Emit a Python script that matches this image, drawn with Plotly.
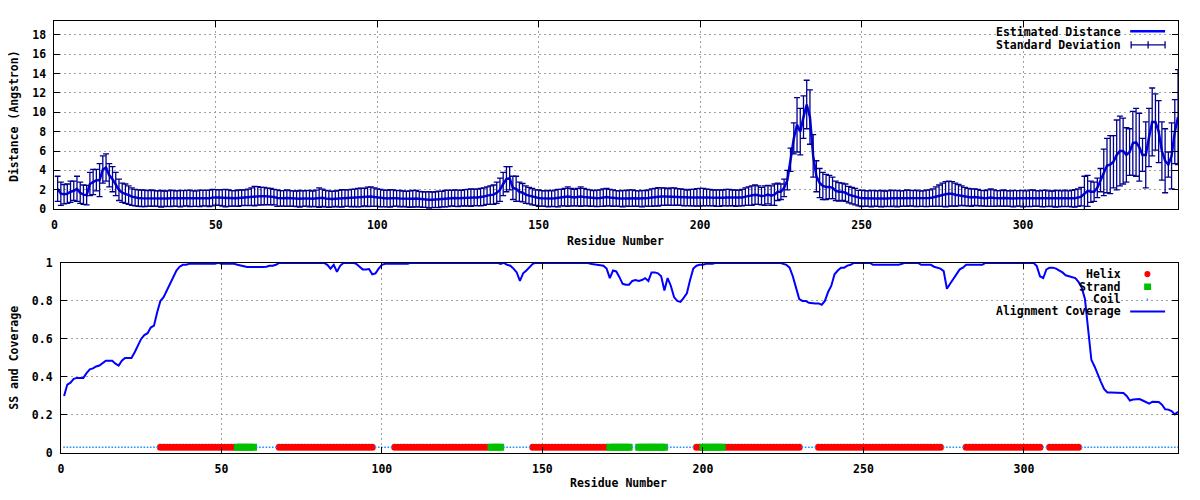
import plotly.graph_objects as go

# ---------------- data ----------------
residues = list(range(1, 349))

distance = [
    2.1, 1.6, 1.55, 1.6, 1.8, 1.9, 2.1, 1.7, 1.5, 1.45,
    2.6, 2.8, 3.0, 3.0, 4.1, 4.3, 3.5, 3.1, 2.6, 2.0,
    1.7, 1.6, 1.45, 1.3, 1.2, 1.15, 1.13, 1.12, 1.12, 1.15,
    1.12, 1.1, 1.08, 1.08, 1.1, 1.12, 1.12, 1.1, 1.1, 1.12,
    1.15, 1.12, 1.1, 1.1, 1.12, 1.15, 1.15, 1.12, 1.2, 1.22,
    1.2, 1.18, 1.15, 1.15, 1.12, 1.12, 1.15, 1.18, 1.2, 1.22,
    1.3, 1.35, 1.38, 1.35, 1.35, 1.32, 1.3, 1.25, 1.15, 1.12,
    1.12, 1.15, 1.12, 1.1, 1.08, 1.08, 1.1, 1.12, 1.1, 1.08,
    1.12, 1.2, 1.18, 1.1, 1.05, 1.05, 1.08, 1.1, 1.12, 1.15,
    1.15, 1.15, 1.18, 1.2, 1.22, 1.25, 1.28, 1.3, 1.25, 1.2,
    1.15, 1.12, 1.1, 1.12, 1.15, 1.12, 1.1, 1.08, 1.05, 1.05,
    1.08, 1.1, 1.05, 1.0, 0.98, 0.97, 0.97, 1.0, 1.02, 1.05,
    1.1, 1.12, 1.15, 1.15, 1.12, 1.15, 1.18, 1.2, 1.2, 1.22,
    1.22, 1.25, 1.3, 1.4, 1.45, 1.5, 1.7, 2.0, 2.6, 3.1,
    3.2, 2.2, 2.1, 1.8, 1.7, 1.5, 1.4, 1.3, 1.2, 1.15,
    1.12, 1.1, 1.1, 1.1, 1.12, 1.15, 1.2, 1.25, 1.3, 1.25,
    1.2, 1.25, 1.3, 1.25, 1.2, 1.15, 1.12, 1.12, 1.15, 1.2,
    1.25, 1.2, 1.15, 1.12, 1.1, 1.1, 1.12, 1.15, 1.15, 1.12,
    1.1, 1.1, 1.12, 1.15, 1.2, 1.25, 1.28, 1.3, 1.3, 1.28,
    1.3, 1.3, 1.28, 1.25, 1.2, 1.18, 1.2, 1.2, 1.22, 1.25,
    1.25, 1.22, 1.2, 1.18, 1.15, 1.15, 1.18, 1.2, 1.2, 1.18,
    1.15, 1.15, 1.2, 1.3, 1.35, 1.4, 1.5, 1.45, 1.35, 1.4,
    1.5, 1.4, 1.5, 1.8, 1.8, 2.2, 3.0, 5.1, 7.3, 8.7,
    8.0, 9.5, 10.8, 9.5, 5.5, 3.4, 2.7, 2.4, 2.3, 2.3,
    2.2, 1.9, 1.8, 1.8, 1.7, 1.5, 1.4, 1.3, 1.15, 1.12,
    1.12, 1.1, 1.1, 1.12, 1.1, 1.1, 1.08, 1.1, 1.12, 1.12,
    1.1, 1.1, 1.12, 1.15, 1.15, 1.12, 1.12, 1.1, 1.1, 1.12,
    1.15, 1.2, 1.3, 1.4, 1.5, 1.55, 1.6, 1.6, 1.5, 1.45,
    1.4, 1.3, 1.25, 1.2, 1.25, 1.2, 1.15, 1.12, 1.15, 1.2,
    1.15, 1.12, 1.12, 1.15, 1.12, 1.1, 1.1, 1.12, 1.12, 1.1,
    1.1, 1.12, 1.15, 1.12, 1.1, 1.1, 1.12, 1.1, 1.08, 1.08,
    1.1, 1.1, 1.12, 1.1, 1.1, 1.12, 1.2, 1.3, 1.6, 1.9,
    1.8, 1.8, 2.2, 3.0, 3.8, 4.5, 4.6, 4.9, 5.6, 6.0,
    6.0, 5.6, 5.9, 6.8, 6.9, 6.4, 5.6, 5.6, 7.4, 9.0,
    9.0, 8.0, 6.0, 5.0, 4.6, 5.5, 8.0, 9.5,
]

std_dev = [
    1.3, 1.2, 1.0, 1.0, 1.1, 1.0, 1.3, 1.1, 1.0, 1.0,
    1.2, 1.3, 1.1, 1.7, 1.4, 1.4, 1.2, 1.3, 1.2, 1.1,
    1.0, 1.0, 0.95, 0.9, 0.85, 0.85, 0.85, 0.85, 0.8, 0.85,
    0.8, 0.8, 0.85, 0.8, 0.8, 0.85, 0.8, 0.8, 0.85, 0.8,
    0.8, 0.85, 0.8, 0.8, 0.85, 0.8, 0.8, 0.85, 0.85, 0.8,
    0.8, 0.85, 0.9, 0.85, 0.8, 0.8, 0.85, 0.8, 0.8, 0.85,
    0.9, 1.0, 0.95, 0.9, 0.9, 0.85, 0.85, 0.8, 0.85, 0.8,
    0.8, 0.85, 0.8, 0.8, 0.8, 0.85, 0.8, 0.8, 0.85, 0.8,
    0.85, 1.0, 0.9, 0.85, 0.85, 0.8, 0.8, 0.85, 0.9, 0.85,
    0.85, 0.9, 0.9, 0.95, 0.95, 0.9, 1.0, 1.0, 0.95, 0.9,
    0.9, 0.85, 0.85, 0.9, 0.85, 0.8, 0.85, 0.8, 0.8, 0.85,
    0.85, 0.85, 0.8, 0.8, 0.8, 0.85, 0.8, 0.8, 0.85, 0.8,
    0.85, 0.85, 0.8, 0.85, 0.85, 0.8, 0.85, 0.85, 0.9, 0.85,
    0.85, 0.9, 0.9, 0.9, 0.95, 1.0, 1.1, 1.2, 1.2, 1.3,
    1.2, 1.2, 1.3, 1.0, 0.95, 0.9, 0.85, 0.85, 0.8, 0.85,
    0.8, 0.8, 0.85, 0.8, 0.85, 0.9, 0.85, 0.9, 1.0, 0.9,
    0.85, 0.9, 1.0, 0.9, 0.85, 0.85, 0.8, 0.85, 0.85, 0.9,
    0.9, 0.85, 0.85, 0.8, 0.8, 0.85, 0.8, 0.85, 0.85, 0.8,
    0.8, 0.85, 0.8, 0.85, 0.9, 0.9, 0.95, 0.9, 0.9, 0.85,
    0.9, 0.9, 0.85, 0.85, 0.85, 0.8, 0.85, 0.85, 0.9, 0.9,
    0.9, 0.85, 0.85, 0.8, 0.85, 0.85, 0.8, 0.85, 0.85, 0.8,
    0.85, 0.8, 0.85, 0.9, 0.95, 1.0, 1.0, 0.95, 0.9, 1.0,
    0.95, 1.0, 1.1, 0.9, 0.8, 0.9, 1.0, 1.2, 1.6, 2.8,
    2.4, 2.2, 2.5, 2.8, 2.2, 1.6, 1.5, 1.4, 1.3, 1.2,
    1.1, 1.0, 0.95, 0.9, 0.9, 0.85, 0.85, 0.85, 0.8, 0.85,
    0.8, 0.8, 0.85, 0.8, 0.8, 0.85, 0.8, 0.8, 0.85, 0.8,
    0.85, 0.8, 0.8, 0.85, 0.8, 0.8, 0.85, 0.8, 0.8, 0.85,
    0.85, 0.9, 1.0, 1.1, 1.2, 1.3, 1.3, 1.25, 1.2, 1.1,
    1.0, 0.95, 0.9, 0.9, 0.85, 0.85, 0.8, 0.8, 0.85, 0.9,
    0.85, 0.8, 0.8, 0.85, 0.8, 0.8, 0.85, 0.8, 0.8, 0.85,
    0.8, 0.85, 0.85, 0.8, 0.8, 0.85, 0.85, 0.8, 0.8, 0.85,
    0.85, 0.8, 0.85, 0.8, 0.85, 0.9, 0.9, 0.95, 1.8, 1.6,
    1.1, 1.0, 1.0, 1.2, 2.4, 2.8, 3.0, 2.7, 3.6, 3.6,
    3.4, 2.8, 2.4, 3.3, 3.5, 3.5, 1.7, 3.4, 3.0, 3.5,
    2.9, 3.2, 3.0, 3.3, 1.3, 3.4, 3.3, 4.9,
]

coverage = [
    0.30, 0.36, 0.37, 0.39, 0.395, 0.395, 0.395, 0.42, 0.44, 0.445,
    0.455, 0.46, 0.475, 0.485, 0.485, 0.485, 0.47, 0.46, 0.485, 0.50,
    0.50, 0.50, 0.53, 0.57, 0.60, 0.62, 0.63, 0.66, 0.67, 0.74,
    0.80, 0.82, 0.855, 0.89, 0.92, 0.96, 0.98, 0.99, 0.99, 0.995,
    0.995, 0.995, 0.995, 0.995, 0.995, 0.995, 0.995, 0.995, 1.0, 0.995,
    0.995, 0.995, 0.995, 0.995, 0.99, 0.985, 0.98, 0.978, 0.978, 0.978,
    0.975, 0.978, 0.978, 0.98, 0.985, 0.985, 0.99, 1.0, 1.0, 1.0,
    1.0, 1.0, 1.0, 1.0, 1.0, 1.0, 1.0, 1.0, 1.0, 1.0,
    1.0, 1.0, 0.99, 0.97, 0.99, 0.953, 0.985, 1.0, 1.0, 1.0,
    1.0, 0.995, 0.98, 0.966, 0.966, 0.968, 0.94, 0.945, 0.97, 0.99,
    0.995, 0.995, 0.995, 0.995, 0.995, 0.995, 0.995, 0.995, 1.0, 1.0,
    1.0, 1.0, 1.0, 1.0, 1.0, 1.0, 1.0, 1.0, 1.0, 1.0,
    1.0, 1.0, 1.0, 1.0, 1.0, 1.0, 1.0, 1.0, 1.0, 1.0,
    1.0, 1.0, 1.0, 1.0, 1.0, 1.0, 0.995, 1.0, 0.99, 0.985,
    0.97, 0.95, 0.906, 0.945, 0.96, 0.98, 0.995, 1.0, 1.0, 1.0,
    1.0, 1.0, 1.0, 1.0, 1.0, 1.0, 1.0, 1.0, 1.0, 1.0,
    1.0, 1.0, 1.0, 1.0, 0.995, 0.993, 0.99, 0.99, 0.985, 0.97,
    0.92, 0.96, 0.955, 0.925, 0.89, 0.885, 0.885, 0.905, 0.91, 0.905,
    0.91, 0.92, 0.905, 0.95, 0.95, 0.945, 0.93, 0.855, 0.92, 0.88,
    0.82, 0.80, 0.795, 0.816, 0.84, 0.91, 0.97, 0.985, 0.99, 0.99,
    0.995, 0.995, 0.995, 1.0, 1.0, 1.0, 1.0, 1.0, 1.0, 1.0,
    1.0, 1.0, 1.0, 1.0, 1.0, 1.0, 1.0, 1.0, 1.0, 1.0,
    1.0, 1.0, 1.0, 1.0, 0.995, 0.99, 0.975, 0.93, 0.87, 0.81,
    0.80, 0.80, 0.79, 0.787, 0.787, 0.787, 0.78, 0.80, 0.847, 0.88,
    0.94, 0.96, 0.975, 0.975, 0.986, 0.99, 1.0, 1.0, 1.0, 1.0,
    1.0, 1.0, 0.99, 0.99, 0.99, 0.99, 0.99, 0.99, 0.99, 0.99,
    0.99, 0.995, 1.0, 1.0, 1.0, 1.0, 1.0, 0.99, 0.99, 0.99,
    0.99, 0.98, 0.975, 0.97, 0.957, 0.864, 0.89, 0.915, 0.94, 0.966,
    0.975, 0.99, 0.99, 0.99, 0.99, 0.99, 0.99, 1.0, 1.0, 1.0,
    1.0, 1.0, 1.0, 1.0, 1.0, 1.0, 1.0, 1.0, 1.0, 1.0,
    1.0, 1.0, 1.0, 0.983, 0.93, 0.92, 0.966, 0.975, 0.975, 0.97,
    0.96, 0.95, 0.935, 0.93, 0.925, 0.92, 0.90, 0.87, 0.81, 0.64,
    0.49, 0.455, 0.41, 0.373, 0.336, 0.318, 0.318, 0.318, 0.318, 0.318,
    0.316, 0.30, 0.276, 0.281, 0.281, 0.284, 0.276, 0.268, 0.26, 0.27,
    0.27, 0.268, 0.254, 0.23, 0.228, 0.22, 0.203, 0.216,
]

# secondary structure, run-length encoded (H helix, E strand, C coil)
ss_runs = [
    ("C", 30), ("H", 24), ("E", 6), ("C", 7), ("H", 30), ("C", 6),
    ("H", 30), ("E", 4), ("C", 9), ("H", 24), ("E", 7), ("C", 2),
    ("E", 9), ("C", 9), ("H", 2), ("E", 7), ("H", 24), ("C", 5),
    ("H", 39), ("C", 7), ("H", 24), ("C", 2), ("H", 10), ("C", 31),
]
ss_level = 0.03

x_ticks = [0, 50, 100, 150, 200, 250, 300]
dist_ticks = [0, 2, 4, 6, 8, 10, 12, 14, 16, 18]
cov_ticks = [0, 0.2, 0.4, 0.6, 0.8, 1.0]
cov_tick_text = ["0", "0.2", "0.4", "0.6", "0.8", "1"]

assert len(distance) == len(residues) == len(std_dev) == len(coverage)

ss = "".join(code * n for code, n in ss_runs)
assert len(ss) == len(residues)
helix_x = [r for r, s in zip(residues, ss) if s == "H"]
strand_x = [r for r, s in zip(residues, ss) if s == "E"]
coil_x = [r for r, s in zip(residues, ss) if s == "C"]

# ---------------- styling ----------------
# The page body keeps the browser's default 8px margin, so the figure is
# sized to fill the 1200x500 window exactly together with that margin.
PAGE_W, PAGE_H, BODY_M = 1200, 500, 8
W, H = PAGE_W - 2 * BODY_M, PAGE_H - 2 * BODY_M
FONT = dict(family="DejaVu Sans Mono", size=11.5, color="#000000", weight="bold")
LINE_BLUE = "#0000ff"
ERR_BLUE = "#00008b"
RED = "#ff0000"
GREEN = "#00c000"
COIL_BLUE = "#1e90ff"
GRID = "#a0a0a0"


def px(x):
    """page pixel x -> paper fraction"""
    return (x - BODY_M) / W


def py(y):
    """page pixel y (from top) -> paper fraction"""
    return 1 - (y - BODY_M) / H


fig = go.Figure()

# top panel
fig.add_trace(go.Scatter(
    x=residues, y=distance, mode="lines", name="Estimated Distance",
    line=dict(color=LINE_BLUE, width=2.5), xaxis="x", yaxis="y",
    showlegend=False))
fig.add_trace(go.Scatter(
    x=residues, y=distance, mode="markers", name="Standard Deviation",
    marker=dict(size=1, color="rgba(0,0,0,0)"),
    error_y=dict(type="data", array=std_dev, visible=True, color=ERR_BLUE,
                 thickness=1.3, width=3),
    xaxis="x", yaxis="y", showlegend=False))

# bottom panel
fig.add_trace(go.Scatter(
    x=helix_x, y=[ss_level] * len(helix_x), mode="markers", name="Helix",
    marker=dict(symbol="circle", size=7, color=RED, line=dict(width=0)),
    xaxis="x2", yaxis="y2", showlegend=False))
fig.add_trace(go.Scatter(
    x=strand_x, y=[ss_level] * len(strand_x), mode="markers", name="Strand",
    marker=dict(symbol="square", size=7, color=GREEN, line=dict(width=0)),
    xaxis="x2", yaxis="y2", showlegend=False))
fig.add_trace(go.Scatter(
    x=coil_x, y=[ss_level] * len(coil_x), mode="markers", name="Coil",
    marker=dict(symbol="square", size=1.6, color=COIL_BLUE, line=dict(width=0)),
    xaxis="x2", yaxis="y2", showlegend=False))
fig.add_trace(go.Scatter(
    x=residues, y=coverage, mode="lines", name="Alignment Coverage",
    line=dict(color=LINE_BLUE, width=2), xaxis="x2", yaxis="y2",
    showlegend=False))

axis_common = dict(
    showline=True, linecolor="#000000", linewidth=1, mirror="ticks",
    ticks="inside", ticklen=6, tickcolor="#000000", tickwidth=1,
    showgrid=True, gridcolor=GRID, gridwidth=1, griddash="2px,3px",
    zeroline=False, tickfont=FONT, ticklabelstandoff=5,
)

fig.update_layout(
    width=W, height=H, autosize=False,
    margin=dict(l=0, r=0, t=0, b=0),
    paper_bgcolor="#ffffff", plot_bgcolor="#ffffff",
    font=FONT, showlegend=False,
    xaxis=dict(domain=[px(51.5), px(1178)], range=[0, 348], anchor="y",
               tickvals=x_ticks, **axis_common),
    yaxis=dict(domain=[py(208), py(14)], range=[0, 19.43], anchor="x",
               tickvals=dist_ticks, **axis_common),
    xaxis2=dict(domain=[px(58), px(1178)], range=[0, 348], anchor="y2",
                tickvals=x_ticks, **axis_common),
    yaxis2=dict(domain=[py(459), py(263.3)], range=[0, 1], anchor="x2",
                tickvals=cov_ticks, ticktext=cov_tick_text, **axis_common),
)

shapes = []
annotations = []

# axis titles
annotations += [
    dict(text="Distance (Angstron)", x=px(11), y=py(112), xref="paper", yref="paper",
         textangle=-90, showarrow=False, font=FONT, xanchor="center", yanchor="middle"),
    dict(text="Residue Number", x=px(614), y=py(240.5), xref="paper", yref="paper",
         showarrow=False, font=FONT, xanchor="center", yanchor="middle"),
    dict(text="SS and Coverage", x=px(11), y=py(361), xref="paper", yref="paper",
         textangle=-90, showarrow=False, font=FONT, xanchor="center", yanchor="middle"),
    dict(text="Residue Number", x=px(617), y=py(489.5), xref="paper", yref="paper",
         showarrow=False, font=FONT, xanchor="center", yanchor="middle"),
]


# legend (gnuplot style: text right aligned, sample to its right)
def legend_text(label, y):
    return dict(text=label, x=px(1123), y=py(y), xref="paper", yref="paper",
                showarrow=False, font=FONT, xanchor="right", yanchor="middle")


shapes.append(dict(type="rect", xref="paper", yref="paper", layer="between",
                   x0=px(987), x1=px(1176), y0=py(15), y1=py(50),
                   fillcolor="#ffffff", line=dict(width=0)))
shapes.append(dict(type="rect", xref="paper", yref="paper", layer="between",
                   x0=px(999), x1=px(1176), y0=py(265), y1=py(320),
                   fillcolor="#ffffff", line=dict(width=0)))

annotations += [legend_text("Estimated Distance", 25.5),
                legend_text("Standard Deviation", 38.7)]
shapes.append(dict(type="line", xref="paper", yref="paper",
                   x0=px(1130), x1=px(1165), y0=py(24.7), y1=py(24.7),
                   line=dict(color=LINE_BLUE, width=2.5)))
shapes.append(dict(type="line", xref="paper", yref="paper",
                   x0=px(1131), x1=px(1165), y0=py(38.7), y1=py(38.7),
                   line=dict(color=ERR_BLUE, width=1.3)))
for xx in (1131, 1148, 1165):
    shapes.append(dict(type="line", xref="paper", yref="paper",
                       x0=px(xx), x1=px(xx), y0=py(35), y1=py(42.5),
                       line=dict(color=ERR_BLUE, width=1.3)))

annotations += [legend_text("Helix", 275), legend_text("Strand", 288),
                legend_text("Coil", 300.7), legend_text("Alignment Coverage", 313.3)]
shapes.append(dict(type="circle", xref="paper", yref="paper",
                   x0=px(1144.3), x1=px(1150.3), y0=py(271.5), y1=py(278),
                   fillcolor=RED, line=dict(width=0)))
shapes.append(dict(type="rect", xref="paper", yref="paper",
                   x0=px(1144), x1=px(1151), y0=py(284.5), y1=py(291.2),
                   fillcolor=GREEN, line=dict(width=0)))
shapes.append(dict(type="rect", xref="paper", yref="paper",
                   x0=px(1146.6), x1=px(1148), y0=py(300), y1=py(301.4),
                   fillcolor=COIL_BLUE, line=dict(width=0)))
shapes.append(dict(type="line", xref="paper", yref="paper",
                   x0=px(1130), x1=px(1165), y0=py(313.3), y1=py(313.3),
                   line=dict(color=LINE_BLUE, width=2)))

fig.update_layout(shapes=shapes, annotations=annotations)

fig.write_html("out.html", config={"displayModeBar": False})
